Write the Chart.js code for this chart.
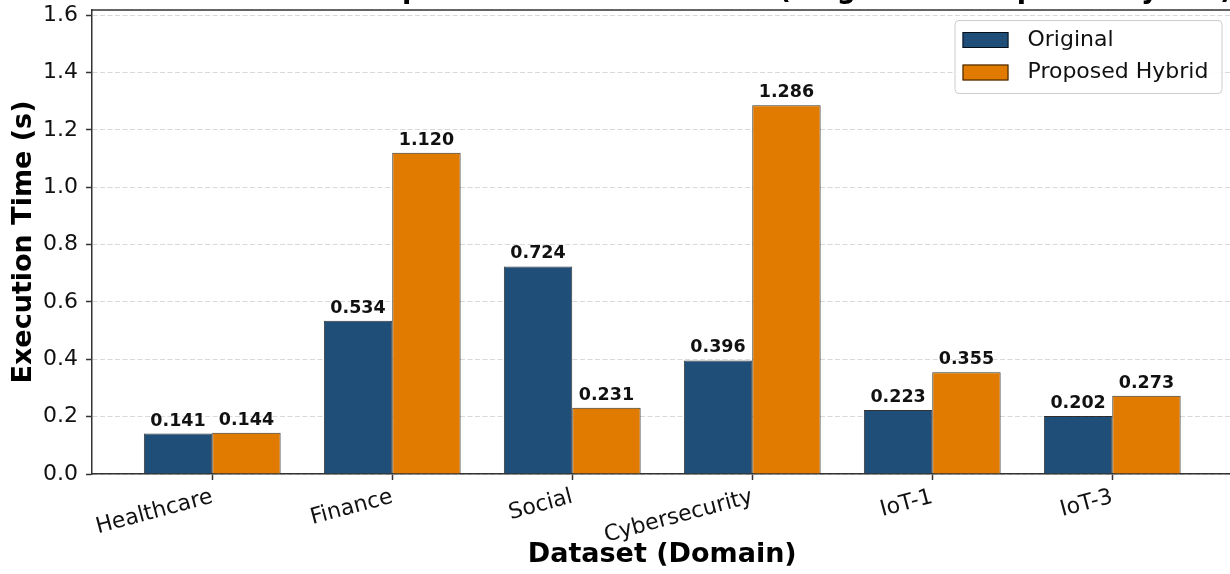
<!DOCTYPE html>
<html>
<head>
<meta charset="utf-8">
<script src="https://cdn.jsdelivr.net/npm/chart.js@4.4.0/dist/chart.umd.min.js"></script>
<style>
    html, body { margin: 0; padding: 0; background: #fff; overflow: hidden; }
    #wrap { position: relative; width: 1230px; height: 574px; overflow: hidden; }
    #chart { position: absolute; left: 0; top: -30px; }
</style>
</head>
<body>
<div id="wrap"><canvas id="chart" width="1250" height="604"></canvas></div>
<script>
const CATEGORIES = ['Healthcare', 'Finance', 'Social', 'Cybersecurity', 'IoT-1', 'IoT-3'];
const ORIGINAL = [0.141, 0.534, 0.724, 0.396, 0.223, 0.202];
const HYBRID = [0.144, 1.120, 0.231, 1.286, 0.355, 0.273];
const SERIES_NAMES = ['Original', 'Proposed Hybrid'];
const Y_TICKS = [0.0, 0.2, 0.4, 0.6, 0.8, 1.0, 1.2, 1.4, 1.6];
const TITLE = 'Execution Time Comparison Across Domains (Original vs Proposed Hybrid)';

const BLUE = '#1f4e79';
const ORANGE = '#e07b00';
const EDGE = 'rgba(0,0,0,0.8)';
const AXIS = '#333';

Chart.defaults.font.family = '"DejaVu Sans", sans-serif';
Chart.defaults.color = '#111';

// value labels above each bar
const valueLabels = {
    id: 'valueLabels',
    afterDatasetsDraw(chart) {
        const ctx = chart.ctx;
        ctx.save();
        ctx.font = 'bold 17.5px "DejaVu Sans"';
        ctx.fillStyle = '#111';
        ctx.textAlign = 'center';
        ctx.textBaseline = 'alphabetic';
        chart.data.datasets.forEach((ds, i) => {
            chart.getDatasetMeta(i).data.forEach((bar, j) => {
                ctx.fillText(ds.data[j].y.toFixed(3), bar.x, bar.y - 8);
            });
        });
        ctx.restore();
    }
};

// top / right spines
const frame = {
    id: 'frame',
    afterDatasetsDraw(chart) {
        const { ctx, chartArea: a } = chart;
        ctx.save();
        ctx.strokeStyle = AXIS;
        ctx.lineWidth = 1.5;
        ctx.beginPath();
        ctx.moveTo(a.left, a.top);
        ctx.lineTo(a.right, a.top);
        ctx.lineTo(a.right, a.bottom);
        ctx.stroke();
        ctx.restore();
    }
};

// matplotlib style legend box in upper right
const boxLegend = {
    id: 'boxLegend',
    afterDraw(chart) {
        const { ctx, chartArea: a } = chart;
        const w = 267, h = 73;
        const x = a.right - 11 - w, y = a.top + 10;
        ctx.save();
        ctx.fillStyle = 'rgba(255,255,255,0.92)';
        ctx.strokeStyle = '#cccccc';
        ctx.lineWidth = 1;
        ctx.beginPath();
        ctx.roundRect(x + 0.5, y + 0.5, w, h, 4);
        ctx.fill();
        ctx.stroke();
        ctx.font = '22px "DejaVu Sans"';
        ctx.textBaseline = 'middle';
        ctx.textAlign = 'left';
        chart.data.datasets.forEach((ds, i) => {
            const ry = y + 20 + i * 32.5;
            ctx.fillStyle = ds.backgroundColor;
            ctx.fillRect(x + 8, ry - 8, 46, 16);
            ctx.strokeStyle = EDGE;
            ctx.strokeRect(x + 8.5, ry - 7.5, 45, 15);
            ctx.fillStyle = '#111';
            ctx.fillText(ds.label, x + 73, ry);
        });
        ctx.restore();
    }
};

const chart = new Chart(document.getElementById('chart'), {
    type: 'bar',
    data: {
        datasets: [
            {
                label: SERIES_NAMES[0],
                data: CATEGORIES.map((c, i) => ({ x: i, y: ORIGINAL[i] })),
                backgroundColor: BLUE, borderColor: EDGE, borderWidth: 1
            },
            {
                label: SERIES_NAMES[1],
                data: CATEGORIES.map((c, i) => ({ x: i, y: HYBRID[i] })),
                backgroundColor: ORANGE, borderColor: EDGE, borderWidth: 1
            }
        ]
    },
    options: {
        responsive: false,
        animation: false,
        devicePixelRatio: 1,
        categoryPercentage: 0.76,
        barPercentage: 1.0,
        layout: { padding: { left: 0, right: 17.5, top: 0, bottom: 0 } },
        plugins: {
            legend: { display: false },
            tooltip: { enabled: false },
            title: {
                display: true,
                text: TITLE,
                fullSize: false,
                color: '#000',
                font: { size: 30, weight: 'bold' },
                padding: { top: 2, bottom: 2 }
            }
        },
        scales: {
            x: {
                type: 'linear',
                offset: false,
                min: -0.668,
                max: 5.668,
                afterBuildTicks: s => { s.ticks = CATEGORIES.map((c, i) => ({ value: i })); },
                afterFit: s => { s.height = 100; },
                ticks: {
                    autoSkip: false,
                    minRotation: 15,
                    maxRotation: 15,
                    padding: 4,
                    color: '#111',
                    font: { size: 22 },
                    callback: v => CATEGORIES[v]
                },
                grid: { offset: false, drawOnChartArea: false, drawTicks: true, tickLength: 6, tickColor: AXIS, tickWidth: 1.5 },
                border: { color: AXIS, width: 1.5 },
                title: {
                    display: true,
                    text: 'Dataset (Domain)',
                    color: '#000',
                    font: { size: 27, weight: 'bold' },
                    padding: { top: 0, bottom: 3 }
                }
            },
            y: {
                min: 0,
                max: 1.618,
                afterBuildTicks: s => { s.ticks = Y_TICKS.map(v => ({ value: v })); },
                afterFit: s => { s.width = 92; },
                ticks: {
                    padding: 8,
                    color: '#111',
                    font: { size: 22 },
                    callback: v => v.toFixed(1)
                },
                grid: { color: '#d9d9d9', lineWidth: 1, tickLength: 6, tickColor: AXIS, tickWidth: 1.5 },
                border: { color: AXIS, width: 1.5, dash: [5, 2.5] },
                title: {
                    display: true,
                    text: 'Execution Time (s)',
                    color: '#000',
                    font: { size: 27, weight: 'bold' },
                    padding: { top: 8, bottom: 0 }
                }
            }
        }
    },
    plugins: [valueLabels, frame, boxLegend]
});
</script>
</body>
</html>
